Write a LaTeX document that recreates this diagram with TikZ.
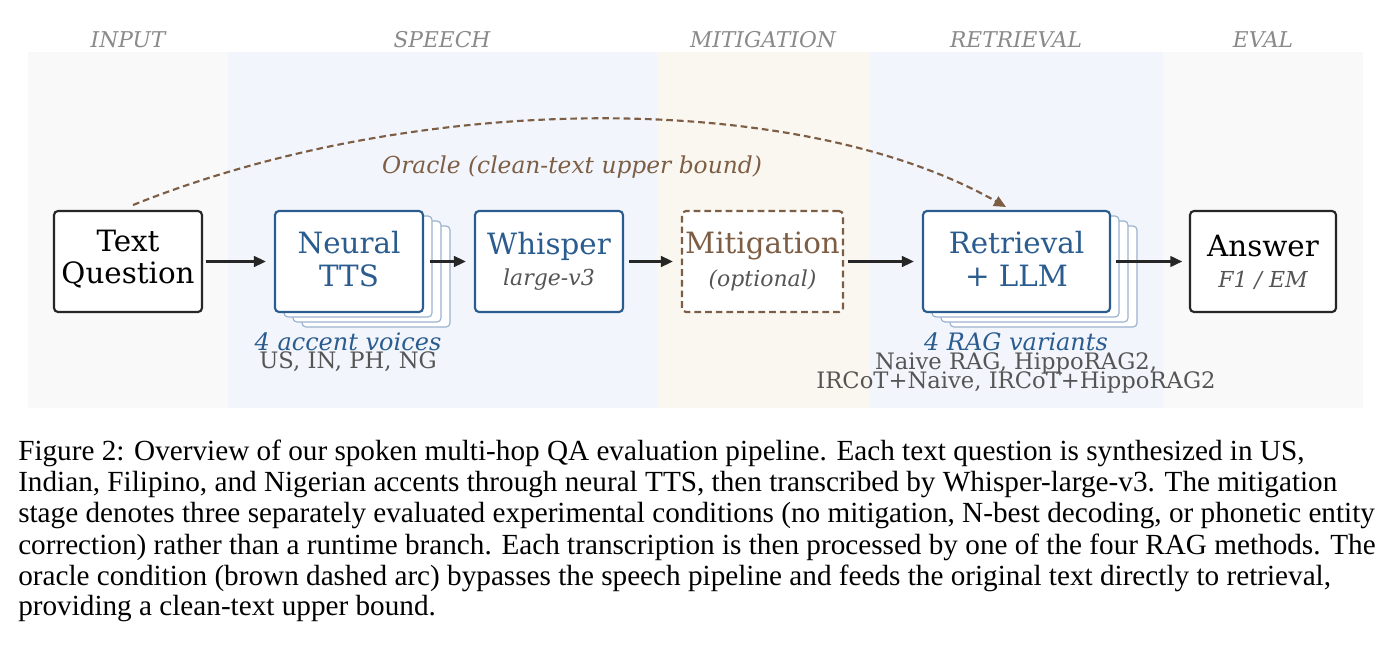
\documentclass[tikz,border=0pt]{standalone}
\usepackage{fontspec}
\setmainfont{DejaVu Serif}
\newfontfamily\capfont{Liberation Serif}
\usetikzlibrary{arrows.meta}
\definecolor{bgA}{HTML}{F9F9F9}
\definecolor{bgB}{HTML}{F2F6FC}
\definecolor{bgC}{HTML}{FAF7F0}
\definecolor{blu}{HTML}{2B5C8F}
\definecolor{blul}{HTML}{9AB3CF}
\definecolor{brn}{HTML}{7D5E45}
\definecolor{gry}{HTML}{8A8A8A}
\definecolor{dgry}{HTML}{555555}
\begin{document}
\begin{tikzpicture}[x=0.75pt,y=-0.75pt,
 box/.style={draw,line width=1.6pt,rounded corners=3pt,fill=white,minimum width=#1*0.75pt,minimum height=101*0.75pt,align=center,inner sep=0pt},
 box/.default=148,
 ghost/.style={draw=blul,line width=0.9pt,rounded corners=3pt,fill=white},
 head/.style={font=\fontsize{16.3}{16}\selectfont\itshape,text=gry},
 big/.style={font=\fontsize{22}{24.5}\selectfont,align=center},
 sm/.style={font=\fontsize{16.5}{18}\selectfont\itshape,text=dgry},
 arr/.style={-{Triangle[length=9pt,width=8pt]},line width=1.8pt,draw=black!85},
 capline/.style={anchor=west,inner sep=0pt,font=\capfont\fontsize{21.9}{24}\selectfont}]
\useasboundingbox (0,0) rectangle (1395,664);
\fill[bgA] (28,52) rectangle (228,408);
\fill[bgB] (228,52) rectangle (657,408);
\fill[bgC] (657,52) rectangle (870,408);
\fill[bgB] (870,52) rectangle (1163,408);
\fill[bgA] (1163,52) rectangle (1363,408);
\node[head] (h1) at (128,40) {INPUT};
\node[head] (h2) at (442,40) {SPEECH};
\node[head] (h3) at (763,40) {MITIGATION};
\node[head] (h4) at (1016,40) {RETRIEVAL};
\node[head] (h5) at (1263,40) {EVAL};
% stacks
\foreach \d in {3,2,1}{
 \draw[ghost] (275+9*\d,211+5*\d) rectangle (423+9*\d,312+5*\d);
 \draw[ghost] (923+9*\d,211+5*\d) rectangle (1110+9*\d,312+5*\d);}
\node[box,draw=black!85] (tq) at (128,261.5) {};
\node[big] (tqt) at (128,259) {Text\\Question};
\node[box,draw=blu] (tts) at (349,261.5) {};
\node[big,text=blu] (ttst) at (349,259) {Neural\\TTS};
\node[box,draw=blu] (wh) at (549,261.5) {};
\node[big,text=blu] (wht) at (549,246) {Whisper};
\node[sm] (whs) at (549,280) {large-v3};
\node[box=161,draw=brn,dashed,dash pattern=on 5pt off 3pt] (mit) at (762.5,261.5) {};
\node[big,text=brn] (mitt) at (762.5,246) {Mitigation};
\node[sm] (mits) at (762.5,280) {(optional)};
\node[box=187,draw=blu] (ret) at (1016.5,261.5) {};
\node[big,text=blu] (rett) at (1016.5,259) {Retrieval\\+ LLM};
\node[box=146,draw=black!85] (ans) at (1263,261.5) {};
\node[big] (anst) at (1263,246) {Answer};
\node[sm] (anss) at (1263,280) {F1 / EM};
\draw[arr] ([xshift=2pt]tq.east) -- ([xshift=-6pt]tts.west);
\draw[arr] ([xshift=4.5pt]tts.east) -- ([xshift=-6pt]wh.west);
\draw[arr] ([xshift=4pt]wh.east) -- ([xshift=-6pt]mit.west);
\draw[arr] ([xshift=3pt]mit.east) -- ([xshift=-6pt]ret.west);
\draw[arr] ([xshift=4pt]ret.east) -- ([xshift=-5pt]ans.west);
\coordinate (o1) at (133,205);
\coordinate (o2) at (1006,207);
\draw[brn,line width=1.6pt,dash pattern=on 5pt off 3pt,-{Triangle[length=9pt,width=8pt]}] (o1) .. controls (420,90) and (800,90) .. (o2);
\node[font=\fontsize{17.5}{17}\selectfont\itshape,text=brn] (or) at (572,167) {Oracle (clean-text upper bound)};
\node[font=\fontsize{18}{18}\selectfont\itshape,text=blu] (l1) at (348,342) {4 accent voices};
\node[font=\fontsize{17}{17}\selectfont,text=dgry] (l2) at (348,362) {US, IN, PH, NG};
\node[font=\fontsize{18}{18}\selectfont\itshape,text=blu] (l3) at (1016,342) {4 RAG variants};
\node[font=\fontsize{17}{17}\selectfont,text=dgry] (l4) at (1016,363) {Naive RAG, HippoRAG2,};
\node[font=\fontsize{17}{17}\selectfont,text=dgry] (l5) at (1016,382) {IRCoT+Naive, IRCoT+HippoRAG2};
\node[capline] (c1) at (18,453) {Figure 2: Overview of our spoken multi-hop QA evaluation pipeline. Each text question is synthesized in US,};
\node[capline] (c2) at (18,485) {Indian, Filipino, and Nigerian accents through neural TTS, then transcribed by Whisper-large-v3. The mitigation};
\node[capline] (c3) at (18,516) {stage denotes three separately evaluated experimental conditions (no mitigation, N-best decoding, or phonetic entity};
\node[capline] (c4) at (18,547) {correction) rather than a runtime branch. Each transcription is then processed by one of the four RAG methods. The};
\node[capline] (c5) at (18,578) {oracle condition (brown dashed arc) bypasses the speech pipeline and feeds the original text directly to retrieval,};
\node[capline] (c6) at (18,609) {providing a clean-text upper bound.};
\end{tikzpicture}
\end{document}
